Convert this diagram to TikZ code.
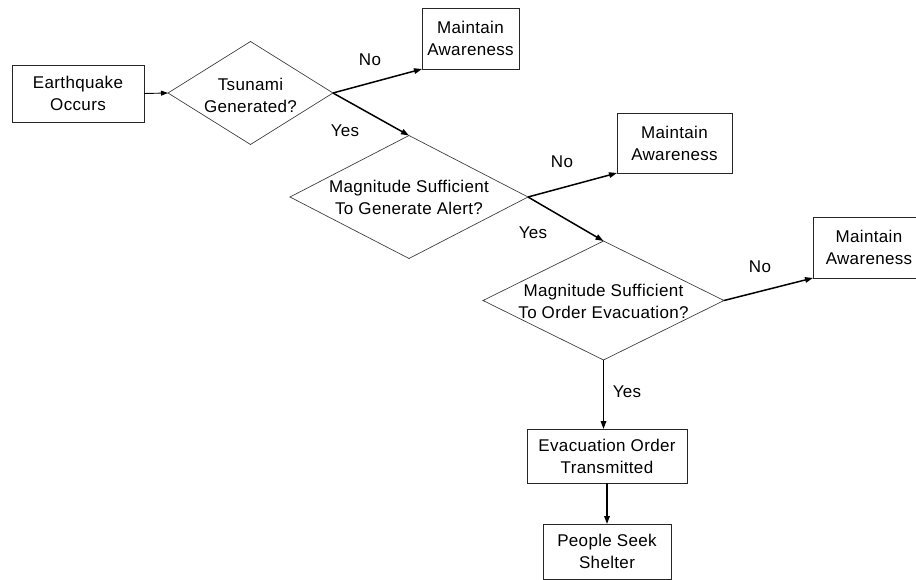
\documentclass[tikz,border=0pt]{standalone}
\usepackage{fontspec}
\setmainfont[LetterSpace=2]{Liberation Sans}
\usetikzlibrary{arrows.meta,shapes.geometric}
\begin{document}
\begin{tikzpicture}[x=1pt,y=-1pt,
  every node/.style={font=\fontsize{17}{22}\selectfont, align=center, text=black},
  box/.style={draw=black!85, line width=0.9pt, inner sep=0pt, outer sep=0pt},
  dia/.style={draw=black!75, line width=0.7pt, diamond, inner sep=0pt, outer sep=0pt, shape aspect=1},
  lbl/.style={inner sep=0pt},
  flow/.style={line width=1.5pt, -{Triangle[length=8pt,width=5.5pt]}},
  thin/.style={line width=0.9pt, -{Triangle[length=7pt,width=5pt]}}]
\useasboundingbox (0,0) rectangle (916,580);
\clip (0,0) rectangle (916,580);
\node[box, minimum width=132pt, minimum height=57pt] (eq) at (78,93.5) {Earthquake\\Occurs};
\node[dia, minimum width=165pt, minimum height=103pt] (d1) at (250.5,93) {};
\node[lbl] (t1) at (250.5,95) {Tsunami\\Generated?};
\node[box, minimum width=97pt, minimum height=61pt] (m1) at (470.5,38.5) {Maintain\\Awareness};
\node[dia, minimum width=238pt, minimum height=123pt] (d2) at (409,197) {};
\node[lbl] (t2) at (409,197) {Magnitude Sufficient\\To Generate Alert?};
\node[box, minimum width=115pt, minimum height=60pt] (m2) at (674.5,143) {Maintain\\Awareness};
\node[dia, minimum width=241pt, minimum height=119pt] (d3) at (603.5,300.5) {};
\node[lbl] (t3) at (603.5,301) {Magnitude Sufficient\\To Order Evacuation?};
\node[box, minimum width=112pt, minimum height=61pt] (m3) at (869,247.5) {Maintain\\Awareness};
\node[box, minimum width=160pt, minimum height=54pt] (ev) at (607,456) {Evacuation Order\\Transmitted};
\node[box, minimum width=128pt, minimum height=55pt] (ps) at (607,551.5) {People Seek\\Shelter};
\draw[thin] (eq.east) -- (d1.west);
\draw[flow] (d1.east) -- (m1.south west);
\draw[flow] (d1.east) -- (d2.north);
\draw[flow] (d2.east) -- (m2.south west);
\draw[flow] (d2.east) -- (d3.north);
\draw[flow] (d3.east) -- (m3.south west);
\draw[flow] (d3.south) -- (d3.south |- ev.north);
\draw[flow] (ev.south) -- (ps.north);
\node[lbl] (n1) at (370,60) {No};
\node[lbl] (y1) at (345,131) {Yes};
\node[lbl] (n2) at (562,162) {No};
\node[lbl] (y2) at (533,233) {Yes};
\node[lbl] (n3) at (760,267) {No};
\node[lbl] (y3) at (627,392) {Yes};
\end{tikzpicture}
\end{document}
